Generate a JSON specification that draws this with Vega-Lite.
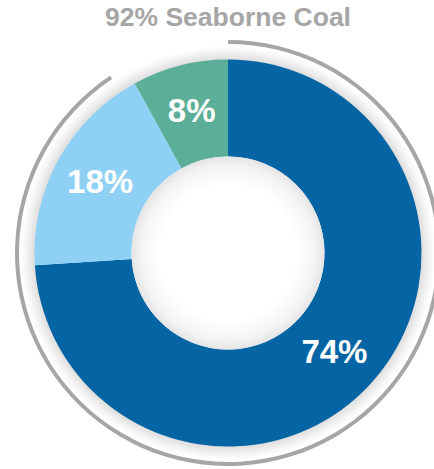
{
  "$schema": "https://vega.github.io/schema/vega-lite/v6.json",
  "width": 456,
  "height": 442,
  "autosize": {"type": "none"},
  "padding": {"top": 32, "left": 0, "right": 0, "bottom": 0},
  "background": "white",
  "view": {"stroke": null},
  "title": {
    "text": "92% Seaborne Coal",
    "font": "Liberation Sans",
    "fontSize": 26.5,
    "fontWeight": "bold",
    "color": "#a6a6a6",
    "anchor": "middle",
    "baseline": "bottom",
    "offset": -26,
    "frame": "group"
  },
  "datasets": {
    "share": [
      {"segment": "Segment A", "value": 74, "label": "74%", "ord": 1},
      {"segment": "Segment B", "value": 18, "label": "18%", "ord": 2},
      {"segment": "Segment C", "value": 8, "label": "8%", "ord": 3}
    ],
    "seaborne": [
      {"segment": "Seaborne Coal", "start": 0, "end": 92}
    ],
    "deco": [{"part": "shadow"}]
  },
  "layer": [
    {
      "data": {"name": "deco"},
      "mark": {
        "type": "arc",
        "theta": 0,
        "theta2": 6.2832,
        "outerRadius": 207,
        "innerRadius": 0,
        "fill": {
          "gradient": "radial",
          "x1": 0.5, "y1": 0.5, "r1": 0,
          "x2": 0.5, "y2": 0.5, "r2": 0.5,
          "stops": [
            {"offset": 0, "color": "#ffffff"},
            {"offset": 0.9, "color": "#ffffff"},
            {"offset": 0.935, "color": "#dedede"},
            {"offset": 0.97, "color": "#f2f2f2"},
            {"offset": 1, "color": "#ffffff"}
          ]
        }
      }
    },
    {
      "data": {"name": "share"},
      "mark": {"type": "arc", "outerRadius": 193.5, "innerRadius": 96.5},
      "encoding": {
        "theta": {"field": "value", "type": "quantitative", "stack": true},
        "order": {"field": "ord", "type": "quantitative"},
        "color": {
          "field": "segment",
          "type": "nominal",
          "scale": {
            "domain": ["Segment A", "Segment B", "Segment C"],
            "range": ["#0564a3", "#8fd0f5", "#5bae97"]
          },
          "legend": null
        }
      }
    },
    {
      "data": {"name": "deco"},
      "mark": {
        "type": "arc",
        "theta": 0,
        "theta2": 6.2832,
        "outerRadius": 96.5,
        "innerRadius": 0,
        "fill": {
          "gradient": "radial",
          "x1": 0.5, "y1": 0.5, "r1": 0,
          "x2": 0.5, "y2": 0.5, "r2": 0.5,
          "stops": [
            {"offset": 0, "color": "#ffffff"},
            {"offset": 0.7, "color": "#ffffff"},
            {"offset": 0.9, "color": "#f4f4f4"},
            {"offset": 1, "color": "#e4e4e4"}
          ]
        }
      }
    },
    {
      "data": {"name": "seaborne"},
      "mark": {
        "type": "arc",
        "outerRadius": 213,
        "innerRadius": 209,
        "color": "#a6a6a6",
        "theta2Offset": -0.085
      },
      "encoding": {
        "theta": {"field": "start", "type": "quantitative", "stack": null, "scale": {"domain": [0, 100]}},
        "theta2": {"field": "end"}
      }
    },
    {
      "data": {"name": "share"},
      "mark": {
        "type": "text",
        "radius": 146,
        "font": "Liberation Sans",
        "fontSize": 33,
        "fontWeight": "bold",
        "color": "white",
        "align": "center",
        "baseline": "middle"
      },
      "encoding": {
        "theta": {"field": "value", "type": "quantitative", "stack": true},
        "order": {"field": "ord", "type": "quantitative"},
        "detail": {"field": "segment", "type": "nominal"},
        "text": {"field": "label", "type": "nominal"}
      }
    }
  ]
}
